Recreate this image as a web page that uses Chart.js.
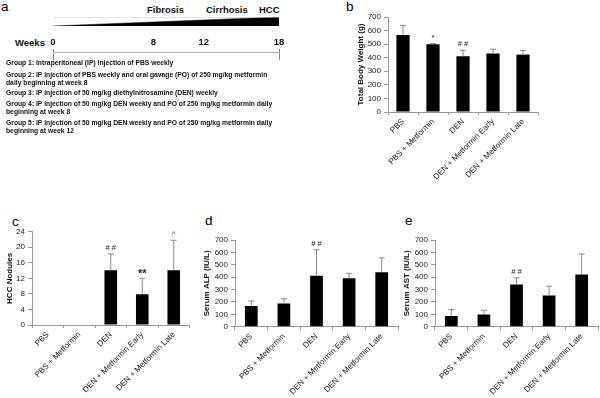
<!DOCTYPE html>
<html>
<head>
<meta charset="utf-8">
<script src="https://cdn.jsdelivr.net/npm/chart.js@4"></script>
<style>
  body { margin: 0; background: #fff; font-family: "Liberation Sans", Arial, sans-serif; }
  #page { position: relative; width: 600px; height: 398px; overflow: hidden; }
  .box { position: absolute; }
  .lbl { position: absolute; font-size: 13.5px; line-height: 13px; color: #000; }
  .stage { position: absolute; font-weight: bold; font-size: 9.5px; line-height: 10px; color: #111; }
  .grp { position: absolute; left: 6px; font-weight: bold; font-size: 6.75px; line-height: 7.4px; color: #111; white-space: nowrap; }
</style>
</head>
<body>
<div id="page">
  <!-- panel a -->
  <span class="lbl" style="left:1px;top:0px">a</span>
  <span class="stage" style="left:147px;top:5px">Fibrosis</span>
  <span class="stage" style="left:206px;top:5px">Cirrhosis</span>
  <span class="stage" style="left:259px;top:5px">HCC</span>
  <div class="box" style="left:0;top:0;width:300px;height:30px"><canvas id="wedge"></canvas></div>
  <span class="stage" style="left:15px;top:38px">Weeks</span>
  <div class="box" style="left:0;top:30px;width:300px;height:30px"><canvas id="timeline"></canvas></div>
  <div class="grp" style="top:59.3px">Group 1: Intraperitoneal (IP) injection of PBS weekly</div>
  <div class="grp" style="top:71.3px">Group 2: IP injection of PBS weekly and oral gavage (PO) of 250 mg/kg metformin<br>daily beginning at week 8</div>
  <div class="grp" style="top:89.3px">Group 3: IP injection of 50 mg/kg diethylnitrosamine (DEN) weekly</div>
  <div class="grp" style="top:100.3px">Group 4: IP injection of 50 mg/kg DEN weekly and PO of 250 mg/kg metformin daily<br>beginning at week 8</div>
  <div class="grp" style="top:119.3px">Group 5: IP injection of 50 mg/kg DEN weekly and PO of 250 mg/kg metformin daily<br>beginning at week 12</div>

  <!-- panel b -->
  <span class="lbl" style="left:346px;top:0px">b</span>
  <div class="box" style="left:300px;top:0;width:300px;height:190px"><canvas id="chartB"></canvas></div>

  <!-- panels c, d, e -->
  <span class="lbl" style="left:12px;top:215px">c</span>
  <div class="box" style="left:0;top:195px;width:200px;height:203px"><canvas id="chartC"></canvas></div>
  <span class="lbl" style="left:205px;top:214px">d</span>
  <div class="box" style="left:200px;top:195px;width:200px;height:203px"><canvas id="chartD"></canvas></div>
  <span class="lbl" style="left:405px;top:214px">e</span>
  <div class="box" style="left:400px;top:195px;width:200px;height:203px"><canvas id="chartE"></canvas></div>
</div>

<script>
// timeline (weeks)
const weekTicks = [0, 8, 12, 18];

// groups
const groups = ['PBS', 'PBS + Metformin', 'DEN', 'DEN + Metformin Early', 'DEN + Metformin Late'];

// b - total body weight (g)
const bodyWeight = [567, 500, 411, 431, 423];
const bodyWeightErr = [71, 5, 44, 32, 30];
const bodyWeightMarks = ['', '*', '# #', '', ''];

// c - HCC nodules
const nodules = [0, 0, 14.1, 7.9, 14.1];
const nodulesErr = [0, 0, 4.2, 4.1, 7.7];
const nodulesMarks = ['', '', '# #', '**', '^'];

// d - serum ALP (IU/L)
const alp = [168, 188, 412, 391, 439];
const alpErr = [40, 38, 208, 40, 116];
const alpMarks = ['', '', '# #', '', ''];

// e - serum AST (IU/L)
const ast = [86, 98, 340, 251, 421];
const astErr = [52, 35, 55, 76, 166];
const astMarks = ['', '', '# #', '', ''];

const FONT = '"Liberation Sans", Arial, sans-serif';
Chart.defaults.font.family = FONT;
Chart.defaults.animation = false;

// wedge (disease progression)
new Chart(document.getElementById('wedge'), {
  type: 'line',
  data: {
    datasets: [
      { data: [{x: 0, y: 1}, {x: 18, y: 1}], borderColor: '#c4c4c4', borderWidth: 1, pointRadius: 0 },
      { data: [{x: 0, y: 0}, {x: 18, y: 1}], borderColor: '#000', backgroundColor: '#000', borderWidth: 0.5, pointRadius: 0, fill: 'origin' }
    ]
  },
  options: {
    responsive: true, maintainAspectRatio: false,
    layout: { padding: { left: 53, right: 21, top: 17, bottom: 4 } },
    plugins: { legend: { display: false }, tooltip: { enabled: false } },
    scales: {
      x: { type: 'linear', min: 0, max: 18, display: false },
      y: { min: 0, max: 1, display: false }
    }
  }
});

// week axis
new Chart(document.getElementById('timeline'), {
  type: 'line',
  data: { datasets: [{ data: [] }] },
  options: {
    responsive: true, maintainAspectRatio: false,
    layout: { padding: { left: 53, right: 21, top: 0, bottom: 0 } },
    plugins: { legend: { display: false }, tooltip: { enabled: false } },
    scales: {
      x: {
        type: 'linear', position: 'top', min: 0, max: 18,
        afterBuildTicks: s => { s.ticks = weekTicks.map(v => ({ value: v })); },
        afterFit: s => { s.height = 22; },
        ticks: { font: { size: 9.5, weight: 'bold' }, color: '#111', padding: 1, maxRotation: 0 },
        grid: {
          color: c => (c.tick && (c.tick.value === 0 || c.tick.value === 18)) ? '#888' : 'rgba(0,0,0,0)',
          tickLength: 3
        },
        border: { color: '#b0b0b0' }
      },
      y: { display: false }
    }
  }
});

// error bars + significance marks
const errorBars = {
  id: 'errorBars',
  afterDatasetsDraw(chart) {
    const ctx = chart.ctx;
    const ds = chart.data.datasets[0];
    const meta = chart.getDatasetMeta(0);
    const y = chart.scales.y;
    ctx.save();
    meta.data.forEach((bar, i) => {
      const v = ds.data[i];
      const e = ds.errors[i];
      const top = y.getPixelForValue(v + e);
      if (e > 0) {
        ctx.strokeStyle = '#8a8a8a';
        ctx.lineWidth = 1;
        ctx.beginPath();
        ctx.moveTo(bar.x, y.getPixelForValue(v));
        ctx.lineTo(bar.x, top);
        ctx.moveTo(bar.x - 3, top);
        ctx.lineTo(bar.x + 3, top);
        ctx.stroke();
      }
      const m = ds.marks[i];
      if (m) {
        ctx.fillStyle = '#222';
        ctx.textAlign = 'center';
        ctx.textBaseline = 'middle';
        ctx.font = (m === '**' ? 'bold 11px ' : '7.5px ') + FONT;
        ctx.fillText(m, bar.x, top - (m === '**' ? 4 : 6));
      }
    });
    ctx.restore();
  }
};

function barChart(id, values, errors, marks, yMax, step, title, box) {
  return new Chart(document.getElementById(id), {
    type: 'bar',
    data: {
      labels: groups,
      datasets: [{
        data: values, errors: errors, marks: marks,
        backgroundColor: '#000', borderWidth: 0,
        barPercentage: box.bar, categoryPercentage: 1
      }]
    },
    options: {
      responsive: true, maintainAspectRatio: false,
      layout: { padding: { left: box.pl, right: box.pr, top: box.pt, bottom: 0 } },
      plugins: { legend: { display: false }, tooltip: { enabled: false } },
      scales: {
        x: {
          afterFit: s => { s.height = box.xh; },
          ticks: { font: { size: 8 }, color: '#222', maxRotation: 45, minRotation: 45, padding: 2, autoSkip: false },
          grid: { drawOnChartArea: false, tickLength: 3, color: '#999' },
          border: { color: '#999' }
        },
        y: {
          min: 0, max: yMax,
          afterFit: s => { s.width = box.yw; },
          ticks: { stepSize: step, font: { size: 8 }, color: '#222', padding: 3, autoSkip: false },
          grid: { drawOnChartArea: false, tickLength: 4, color: '#999' },
          border: { color: '#999' },
          title: { display: true, text: title, font: { size: 8, weight: 'bold' }, color: '#111', padding: 0 }
        }
      }
    },
    plugins: [errorBars]
  });
}

barChart('chartB', bodyWeight, bodyWeightErr, bodyWeightMarks, 700, 100, 'Total Body Weight (g)',
  { pl: 56, pr: 62, pt: 17, xh: 78, yw: 32, bar: 0.44 });
barChart('chartC', nodules, nodulesErr, nodulesMarks, 24, 4, 'HCC Nodules',
  { pl: 5, pr: 10.5, pt: 36.7, xh: 73, yw: 27, bar: 0.4 });
barChart('chartD', alp, alpErr, alpMarks, 700, 100, 'Serum ALP (IU/L)',
  { pl: 2, pr: 2, pt: 45, xh: 71.3, yw: 33, bar: 0.39 });
barChart('chartE', ast, astErr, astMarks, 700, 100, 'Serum AST (IU/L)',
  { pl: 2, pr: 2, pt: 45, xh: 71.3, yw: 33, bar: 0.39 });
</script>
</body>
</html>
